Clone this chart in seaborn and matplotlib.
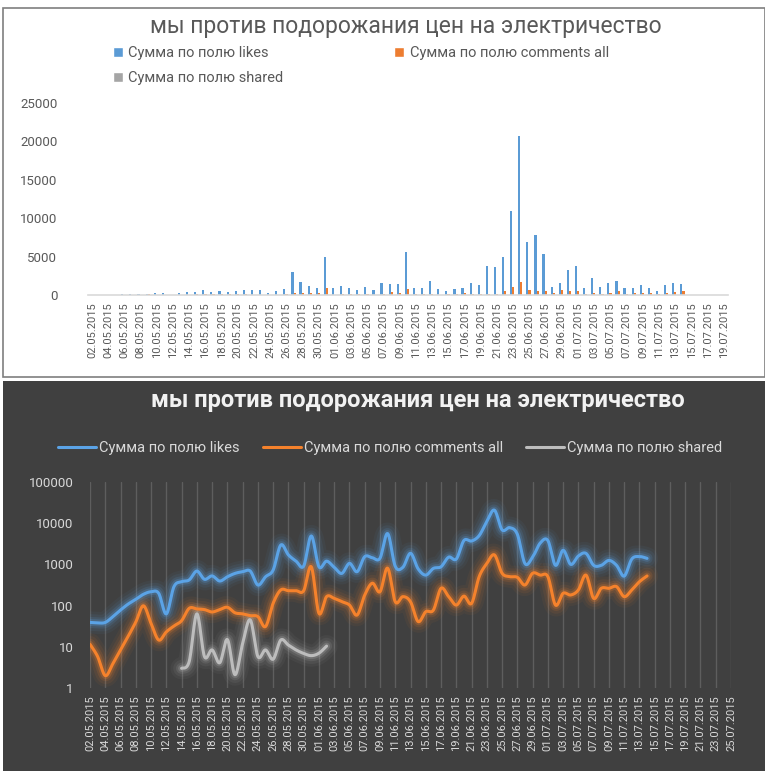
import numpy as np
import pandas as pd
import matplotlib
matplotlib.use("Agg")
import matplotlib.pyplot as plt
import seaborn as sns
from matplotlib.patches import Rectangle, Patch
from matplotlib.lines import Line2D
from matplotlib.ticker import FixedLocator, NullFormatter

# ---------------- data ----------------
title = "мы против подорожания цен на электричество"
series_names = ["Сумма по полю likes", "Сумма по полю comments all", "Сумма по полю shared"]

dates_bar = [d.strftime("%d.%m.%Y") for d in pd.date_range("2015-05-02", "2015-07-19")]
dates_line = [d.strftime("%d.%m.%Y") for d in pd.date_range("2015-05-02", "2015-07-25")]

likes = [39, 38, 39, 54, 78, 109, 142, 188, 217, 199,
         63, 288, 380, 420, 690, 435, 525, 395, 500, 605,
         665, 690, 316, 500, 730, 2950, 1700, 1200, 910, 4900,
         875, 1200, 850, 605, 1060, 665, 1540, 1450, 1410, 5600,
         900, 850, 1860, 780, 550, 800, 875, 1500, 1350, 3800,
         3700, 5000, 11000, 20700, 6900, 7800, 5400, 1050, 1500, 3300,
         3800, 950, 2200, 1000, 1600, 1850, 950, 950, 1250, 950,
         520, 1350, 1550, 1400]
comments = [11.5, 5.8, 2.0, 3.9, 8.5, 18, 40, 99, 37, 14.6,
            23, 32, 43, 86, 83, 80, 70, 80, 91, 67,
            63, 57, 54, 31, 114, 240, 230, 230, 230, 875,
            65, 165, 150, 125, 103, 59, 180, 350, 217, 810,
            124, 165, 124, 41, 71, 78, 263, 165, 103, 170,
            113, 505, 1050, 1700, 610, 505, 485, 316, 610, 550,
            505, 103, 199, 181, 240, 550, 150, 263, 263, 289,
            165, 240, 380, 525]
shared_start = "14.05.2015"
shared = [3.0, 4.4, 63, 5.8, 8.4, 4.1, 15, 2.1, 12, 45,
          5.8, 8.4, 5, 14.6, 11, 8.4, 6.9, 6.1, 7, 10.4]

bar_ticks = [0, 5000, 10000, 15000, 20000, 25000]
log_ticks = [1, 10, 100, 1000, 10000, 100000]

colors_bar = ["#5B9BD5", "#ED7D31", "#A5A5A5"]
colors_line = ["#5BA3E6", "#F5822C", "#BDBDBD"]

# ---------------- helpers ----------------
W, H = 765, 771
def fx(x):
    return x / W
def fy(y):
    return 1 - y / H

def smooth(x, y, steps=14):
    x = np.asarray(x, float); y = np.asarray(y, float)
    n = len(x)
    outx, outy = [], []
    for i in range(n - 1):
        p0 = i - 1 if i > 0 else i
        p3 = i + 2 if i + 2 < n else i + 1
        c1x = x[i] + (x[i + 1] - x[p0]) / 6; c1y = y[i] + (y[i + 1] - y[p0]) / 6
        c2x = x[i + 1] - (x[p3] - x[i]) / 6; c2y = y[i + 1] - (y[p3] - y[i]) / 6
        t = np.linspace(0, 1, steps, endpoint=(i == n - 2))
        a, b, c, d = (1 - t) ** 3, 3 * (1 - t) ** 2 * t, 3 * (1 - t) * t ** 2, t ** 3
        outx.append(a * x[i] + b * c1x + c * c2x + d * x[i + 1])
        outy.append(a * y[i] + b * c1y + c * c2y + d * y[i + 1])
    return np.concatenate(outx), np.concatenate(outy)

sns.set_theme(style="white")
plt.rcParams["font.family"] = ["Roboto", "DejaVu Sans"]

fig = plt.figure(figsize=(W / 100, H / 100), dpi=100, facecolor="white")

# panel backgrounds
fig.patches.append(Rectangle((fx(3), fy(377)), fx(762), 369 / H, transform=fig.transFigure,
                             facecolor="white", edgecolor="#7F7F7F", linewidth=1.2, zorder=-5))
fig.patches.append(Rectangle((fx(3), 0), fx(762), fy(381), transform=fig.transFigure,
                             facecolor="#404040", edgecolor="none", zorder=-5))

# ---------------- top: bar chart ----------------
n_bar = len(dates_bar)
def pad(vals, n):
    return list(vals) + [np.nan] * (n - len(vals))
s_idx = dates_bar.index(shared_start)
shared_full = [np.nan] * s_idx + list(shared)
df_bar = pd.DataFrame({
    "date": dates_bar * 3,
    "value": pad(likes, n_bar) + pad(comments, n_bar) + pad(shared_full, n_bar),
    "series": [series_names[0]] * n_bar + [series_names[1]] * n_bar + [series_names[2]] * n_bar,
})

ax1 = fig.add_axes([fx(88), fy(295), 640 / W, (295 - 103) / H])
ax1.set_facecolor("none")
sns.barplot(data=df_bar, x="date", y="value", hue="series", order=dates_bar,
            hue_order=series_names, palette=colors_bar, width=0.8, ax=ax1,
            legend=False, saturation=1, errorbar=None, linewidth=0)
ax1.set_xlim(-0.5, n_bar - 0.5)
ax1.set_ylim(0, 25000)
ax1.set_yticks(bar_ticks)
ax1.set_yticklabels([str(v) for v in bar_ticks], color="#595959", fontsize=9.5)
ax1.yaxis.set_minor_locator(FixedLocator([10000, 15000, 20000]))
ax1.grid(False)
ax1.yaxis.grid(True, which="minor", color="#D9D9D9", linewidth=1.2)
ax1.set_axisbelow(True)
ax1.set_xticks(range(0, n_bar, 2))
ax1.set_xticklabels(dates_bar[::2], rotation=90, color="#595959", fontsize=8)
ax1.tick_params(axis="both", length=0, pad=5)
ax1.tick_params(axis="y", pad=22)
for s in ["top", "right", "left"]:
    ax1.spines[s].set_visible(False)
ax1.spines["bottom"].set_color("#D9D9D9")
ax1.spines["bottom"].set_linewidth(1.2)
ax1.set_xlabel(""); ax1.set_ylabel("")

fig.text(fx(406), fy(27), title, ha="center", va="center", fontsize=16.5, color="#595959")
h_top = [Patch(facecolor=colors_bar[0]), Patch(facecolor=colors_bar[2]), Patch(facecolor=colors_bar[1])]
l_top = [series_names[0], series_names[2], series_names[1]]
fig.legend(h_top, l_top, ncol=2, loc="upper left", bbox_to_anchor=(fx(113), fy(46)),
           frameon=False, fontsize=10.5, labelcolor="#595959", handlelength=0.7,
           handleheight=0.7, handletextpad=0.35, columnspacing=7.6, labelspacing=0.75,
           borderaxespad=0, borderpad=0)

# ---------------- bottom: log line chart ----------------
n_line = len(dates_line)
ax2 = fig.add_axes([fx(90), fy(688), 641 / W, 206 / H])
ax2.set_facecolor("none")
ax2.set_yscale("log")
ax2.set_xlim(0, n_line - 1)
ax2.set_ylim(1, 100000)

line_sets = [
    (list(range(len(likes))), likes, colors_line[0]),
    (list(range(len(comments))), comments, colors_line[1]),
    (list(range(dates_line.index(shared_start), dates_line.index(shared_start) + len(shared))), shared, colors_line[2]),
]
for xs, ys, col in line_sets:
    sx, sy = smooth(xs, np.log10(ys))
    sy = 10 ** sy
    for lw, al in [(16, 0.05), (12, 0.08), (8, 0.13), (5, 0.22)]:
        ax2.plot(sx, sy, color=col, linewidth=lw, alpha=al, solid_capstyle="round", zorder=2)
    sns.lineplot(x=sx, y=sy, ax=ax2, color=col, linewidth=2.2, sort=False,
                 estimator=None, zorder=3)

ax2.set_yticks(log_ticks)
ax2.set_yticklabels([str(v) for v in log_ticks], color="#D9D9D9", fontsize=9.5)
ax2.yaxis.set_minor_locator(FixedLocator([1, 10, 100, 1000, 10000]))
ax2.yaxis.set_minor_formatter(NullFormatter())
ax2.set_xticks(range(0, n_line, 2))
ax2.set_xticklabels(dates_line[::2], rotation=90, color="#D9D9D9", fontsize=8)
ax2.grid(False)
ax2.yaxis.grid(True, which="minor", color="#5E5E5E", linewidth=1.0)
ax2.xaxis.grid(True, which="major", color="#5E5E5E", linewidth=1.0)
ax2.tick_params(axis="both", which="both", length=0, pad=5)
ax2.tick_params(axis="y", pad=12)
for s in ax2.spines.values():
    s.set_visible(False)
ax2.set_xlabel(""); ax2.set_ylabel("")

fig.text(fx(418), fy(400), title, ha="center", va="center", fontsize=17,
         fontweight="bold", color="#F2F2F2")
h_bot = [Line2D([0], [0], color=c, linewidth=2.2) for c in colors_line]
fig.legend(h_bot, series_names, ncol=3, loc="center", bbox_to_anchor=(fx(390), fy(448)),
           frameon=False, fontsize=10.5, labelcolor="#D9D9D9", handlelength=2.6,
           handletextpad=0.2, columnspacing=1.6)

fig.savefig("out.png", dpi=100, facecolor="white")
